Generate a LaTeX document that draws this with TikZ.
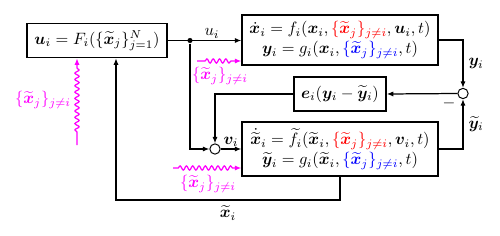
\documentclass[tikz,border=0pt]{standalone}
\usepackage{amsmath,bm}
\usetikzlibrary{arrows.meta,decorations.pathmorphing,calc}
\definecolor{wave}{HTML}{FF00FF}
\definecolor{plantc}{HTML}{FF0000}
\definecolor{outc}{HTML}{0000FF}
\newcommand{\xtil}{\widetilde{\bm{x}}}
\newcommand{\ytil}{\widetilde{\bm{y}}}

\begin{document}
\begin{tikzpicture}[
  x=0.0214cm, y=-0.0214cm,
  >={Latex[length=1.4mm,width=1.1mm]}, line width=0.75pt,
  blk/.style={draw, line width=0.85pt, fill=white, align=center, inner sep=1pt},
  sumnode/.style={draw, circle, fill=white, minimum size=0.22cm, inner sep=0pt, line width=0.6pt},
  lbl/.style={inner sep=1pt},
  wavy/.style={draw=wave, decorate, decoration={snake, amplitude=0.45mm, segment length=1.35mm, pre length=#1, post length=1.6mm}},
  wavy/.default=1.7mm,
  wlbl/.style={text=wave, inner sep=1pt},
]
\useasboundingbox (0,0) rectangle (500,236);

% Controller
\node[blk, minimum width=3.0cm, minimum height=0.73cm] (ctrl) at (97,40.5)
  {$\bm{u}_i = F_i(\{\xtil_j\}_{j=1}^N)$};

% Plant
\node[blk, minimum width=4.19cm, minimum height=1.07cm] (plant) at (340,40)
  {$\dot{\bm{x}}_i = f_i(\bm{x}_i, {\color{plantc}\{\xtil_j\}_{j\neq i}}, \bm{u}_i, t)$\\
   $\bm{y}_i = g_i(\bm{x}_i, {\color{outc}\{\xtil_j\}_{j\neq i}}, t)$};

% Error injection
\node[blk, minimum width=1.97cm, minimum height=0.73cm] (err) at (340,94)
  {$\bm{e}_i(\bm{y}_i - \ytil_i)$};

% Observer
\node[blk, minimum width=4.19cm, minimum height=1.16cm] (obs) at (340,149)
  {$\dot{\xtil}_i = \widetilde{f}_i(\xtil_i, {\color{plantc}\{\xtil_j\}_{j\neq i}}, \bm{v}_i, t)$\\
   $\ytil_i = g_i(\xtil_i, {\color{outc}\{\xtil_j\}_{j\neq i}}, t)$};

% Summing points
\node[sumnode] (sumy) at (463,93.5) {};
\node[sumnode] (sumo) at (215,149) {};
\node[circle, fill, inner sep=1.1pt] (split) at (190,40.5) {};

% Forward path
\draw[->] (ctrl.east) -- (plant.west |- ctrl.east) node[lbl, pos=0.6, above] {$u_i$};
\draw[->] (split) |- (sumo.west);
\draw[->] (sumo.east) -- (obs.west |- sumo) node[lbl, midway, above] {$\bm{v}_i$};

% Output comparison
\draw[->] (plant.east) -| (sumy.north) node[lbl, pos=0.75, right=2pt] {$\bm{y}_i$};
\draw[->] (obs.east |- sumo) -| (sumy.south) node[lbl, pos=0.75, right=2pt] {$\ytil_i$};
\node[lbl] (minus) at (449,103) {$-$};
\draw[->] (sumy.west) -- (err.east);
\draw[->] (err.west) -| (sumo.north);

% Estimate fed back
\coordinate (xback) at (116,200);
\draw[->] (obs.south) |- (xback) -- (xback |- ctrl.south) ;
\node[lbl] (xlbl) at (228,213) {$\xtil_i$};

% Neighbour estimates
\coordinate (w1) at (77,145);
\coordinate (w2) at (197,61);
\coordinate (w3) at (173,168);
\draw[wavy=2.8mm, ->] (w1) -- (w1 |- ctrl.south);
\node[wlbl] (w1lbl) at (43,100) {$\{\xtil_j\}_{j\neq i}$};
\draw[wavy, ->] (w2) -- (w2 -| plant.west);
\node[wlbl] (w2lbl) at (220,76) {$\{\xtil_j\}_{j\neq i}$};
\draw[wavy=1.1mm, ->] (w3) -- (w3 -| obs.west);
\node[wlbl] (w3lbl) at (208,184) {$\{\xtil_j\}_{j\neq i}$};

\end{tikzpicture}
\end{document}
